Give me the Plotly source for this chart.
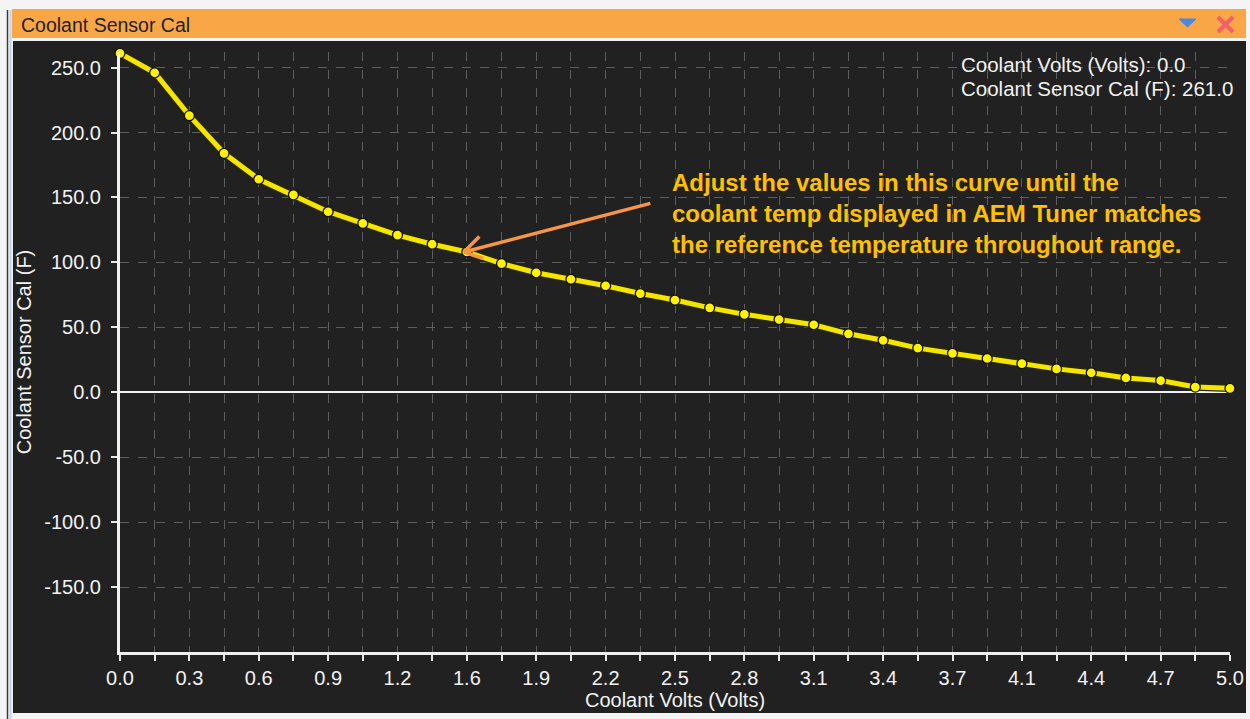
import plotly.graph_objects as go

# ---------------- data ----------------
volts = [0.0, 0.15625, 0.3125, 0.46875, 0.625, 0.78125, 0.9375, 1.09375, 1.25,
         1.40625, 1.5625, 1.71875, 1.875, 2.03125, 2.1875, 2.34375, 2.5,
         2.65625, 2.8125, 2.96875, 3.125, 3.28125, 3.4375, 3.59375, 3.75,
         3.90625, 4.0625, 4.21875, 4.375, 4.53125, 4.6875, 4.84375, 5.0]
temps = [261, 246, 213, 184, 164, 152, 139, 130, 121, 114, 108, 99, 92, 87, 82,
         76, 71, 65, 60, 56, 52, 45, 40, 34, 30, 26, 22, 18, 15, 11, 9, 4, 3]
x_tick_labels = ["0.0", "0.3", "0.6", "0.9", "1.2", "1.6", "1.9", "2.2", "2.5",
                 "2.8", "3.1", "3.4", "3.7", "4.1", "4.4", "4.7", "5.0"]
y_tick_vals = [-150, -100, -50, 0, 50, 100, 150, 200, 250]
y_tick_labels = ["-150.0", "-100.0", "-50.0", "0.0", "50.0", "100.0", "150.0",
                 "200.0", "250.0"]

window_title = "Coolant Sensor Cal"
x_title = "Coolant Volts (Volts)"
y_title = "Coolant Sensor Cal (F)"
readout = ["Coolant Volts (Volts): 0.0", "Coolant Sensor Cal (F): 261.0"]
note = ("<b>Adjust the values in this curve until the<br>"
        "coolant temp displayed in AEM Tuner matches<br>"
        "the reference temperature throughout range.</b>")

# ---------------- layout helpers ----------------
W, H = 1250, 719
L, R, T, B = 120, 20, 52, 67
PW, PH = W - L - R, H - T - B


def px(x):
    return (x - L) / PW


def py(y):
    return (H - B - y) / PH


FONT = "Liberation Sans, Arial, sans-serif"
TXT = "#f2f2f2"
GRID = "#5e5e5e"
DARK = "#212121"

x_tickvals = volts
x_ticktext = [x_tick_labels[i // 2] if i % 2 == 0 else "" for i in range(len(volts))]

fig = go.Figure()
fig.add_trace(go.Scatter(
    x=volts, y=temps, mode="lines",
    line=dict(color="#2a2a00", width=7.5),
    cliponaxis=False, showlegend=False, hoverinfo="skip",
))
fig.add_trace(go.Scatter(
    x=volts, y=temps, mode="lines+markers",
    line=dict(color="#F4E600", width=5),
    marker=dict(size=10, color="#FFF200", line=dict(color="#111111", width=1.3)),
    cliponaxis=False, showlegend=False, hoverinfo="x+y",
))

shapes = [
    # orange title bar
    dict(type="rect", xref="paper", yref="paper", x0=px(12), x1=px(1246),
         y0=py(38), y1=py(9), fillcolor="#F9A647", line=dict(width=0), layer="below"),
    # dark panel
    dict(type="rect", xref="paper", yref="paper", x0=px(13), x1=px(1246),
         y0=py(713), y1=py(41), fillcolor=DARK, line=dict(width=0), layer="below"),
    # left frame lines
    dict(type="line", xref="paper", yref="paper", x0=px(7.5), x1=px(7.5),
         y0=py(719), y1=py(10), line=dict(color="#3a3a3a", width=1.5), layer="below"),
    dict(type="line", xref="paper", yref="paper", x0=px(10.5), x1=px(10.5),
         y0=py(719), y1=py(10), line=dict(color="#bcd4ee", width=2), layer="below"),
    # blue drop-down triangle
    dict(type="path", xref="paper", yref="paper",
         path=f"M {px(1179)} {py(19)} L {px(1196)} {py(19)} L {px(1187.5)} {py(27)} Z",
         fillcolor="#4d88dc", line=dict(color="#4d88dc", width=1)),
    # red close X
    dict(type="line", xref="paper", yref="paper", x0=px(1218), x1=px(1233),
         y0=py(17), y1=py(32), line=dict(color="#F0606E", width=4)),
    dict(type="line", xref="paper", yref="paper", x0=px(1218), x1=px(1233),
         y0=py(32), y1=py(17), line=dict(color="#F0606E", width=4)),
]

annotations = [
    dict(text=window_title, xref="paper", yref="paper", x=px(19), y=py(25),
         xanchor="left", yanchor="middle", showarrow=False,
         font=dict(family=FONT, size=19.5, color="#1e1e1e")),
    dict(text=readout[0], xref="paper", yref="paper", x=px(959), y=py(64),
         xanchor="left", yanchor="middle", showarrow=False,
         font=dict(family=FONT, size=20.5, color=TXT)),
    dict(text=readout[1], xref="paper", yref="paper", x=px(959), y=py(88),
         xanchor="left", yanchor="middle", showarrow=False,
         font=dict(family=FONT, size=20.5, color=TXT)),
    dict(text=note, xref="paper", yref="paper", x=px(671), y=py(213),
         xanchor="left", yanchor="middle", align="left", showarrow=False,
         font=dict(family=FONT, size=24, color="#FFC000"), borderpad=0),
]

# orange arrow pointing at the 1.6 V point (shaft + two open-head arms)
for (ax, ay) in [(188, -49), (17, -17), (21, 7)]:
    annotations.append(dict(
        x=volts[10], y=temps[10], xref="x", yref="y", text="", showarrow=True,
        ax=ax, ay=ay, arrowhead=0, arrowwidth=3.5, arrowcolor="#F79646",
        standoff=0, startstandoff=0, xshift=-3))

fig.update_layout(
    width=W, height=H,
    margin=dict(l=L, r=R, t=T, b=B, autoexpand=False),
    paper_bgcolor="#f4f4f4", plot_bgcolor=DARK,
    font=dict(family=FONT, color=TXT, size=20),
    shapes=shapes, annotations=annotations, showlegend=False,
    xaxis=dict(
        range=[0, 5], tickmode="array", tickvals=x_tickvals, ticktext=x_ticktext,
        ticks="outside", ticklen=6, tickwidth=2, tickcolor="#e8e8e8",
        tickfont=dict(family=FONT, size=20, color=TXT),
        showgrid=True, gridcolor=GRID, griddash="dash", gridwidth=1,
        showline=True, linecolor="#f0f0f0", linewidth=3,
        zeroline=False,
        title=dict(text=x_title, font=dict(family=FONT, size=20, color=TXT), standoff=4),
        fixedrange=True,
    ),
    yaxis=dict(
        range=[-200, 262], tickmode="array", tickvals=y_tick_vals, ticktext=y_tick_labels,
        ticks="outside", ticklen=6, tickwidth=2, tickcolor="#e8e8e8",
        tickfont=dict(family=FONT, size=20, color=TXT), ticklabelstandoff=6,
        showgrid=True, gridcolor=GRID, griddash="dash", gridwidth=1,
        showline=True, linecolor="#f0f0f0", linewidth=3,
        zeroline=True, zerolinecolor="#f0f0f0", zerolinewidth=2,
        title=dict(text=y_title, font=dict(family=FONT, size=20, color=TXT), standoff=8),
        fixedrange=True,
    ),
)

fig.write_html(
    "out.html",
    config={"displayModeBar": False},
    post_script="document.body.style.margin='0';document.body.style.overflow='hidden';",
)
